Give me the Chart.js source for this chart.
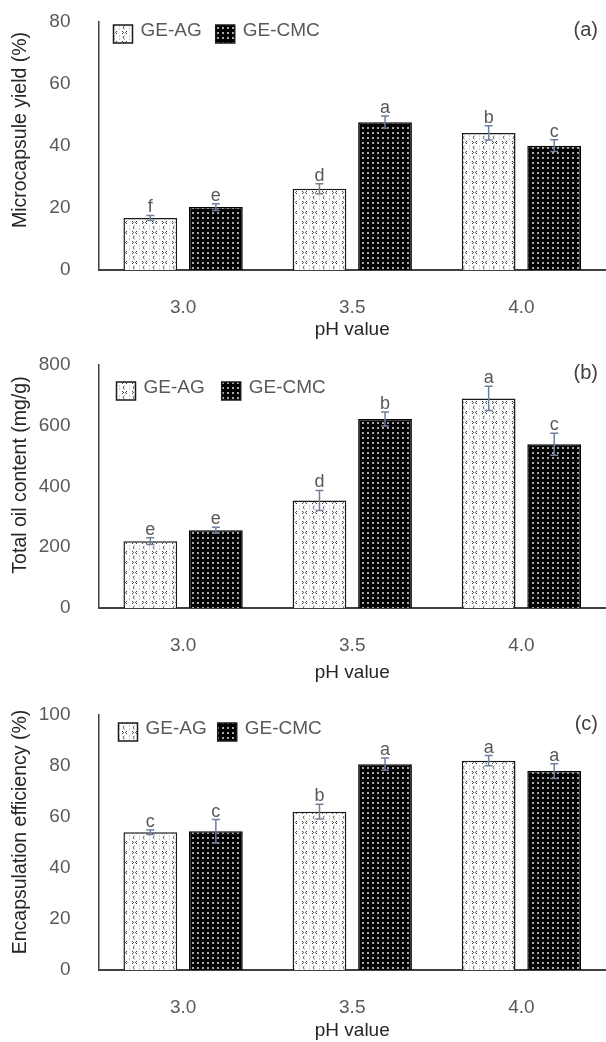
<!DOCTYPE html>
<html>
<head>
<meta charset="utf-8">
<script src="https://cdn.jsdelivr.net/npm/chart.js@4.4.0/dist/chart.umd.min.js"></script>
<style>
  html, body { margin: 0; padding: 0; background: #fff; }
  body { width: 606px; height: 1042px; position: relative; overflow: hidden; }
  .panel { position: absolute; left: 0; width: 606px; }
</style>
</head>
<body>
<div class="panel" style="top:0;height:345px"><canvas id="chartA"></canvas></div>
<div class="panel" style="top:340px;height:350px"><canvas id="chartB"></canvas></div>
<div class="panel" style="top:690px;height:352px"><canvas id="chartC"></canvas></div>
<script>
// pH categories and series names
const phLabels = ['3.0', '3.5', '4.0'];
const seriesNames = ['GE-AG', 'GE-CMC'];

// (a) Microcapsule yield (%)
const yieldAG = [16.8, 26.2, 44.2];
const yieldCMC = [20.3, 47.7, 40.1];
const yieldErrAG = [0.8, 1.6, 2.3];
const yieldErrCMC = [1.1, 2.0, 1.9];
const yieldLetAG = ['f', 'd', 'b'];
const yieldLetCMC = ['e', 'a', 'c'];
const yieldAxis = [0, 80, 20]; // min, max, step

// (b) Total oil content (mg/g)
const oilAG = [220, 354, 690];
const oilCMC = [256, 622, 539];
const oilErrAG = [11, 33, 40];
const oilErrCMC = [10, 23, 36];
const oilLetAG = ['e', 'd', 'a'];
const oilLetCMC = ['e', 'b', 'c'];
const oilAxis = [0, 800, 200];

// (c) Encapsulation efficiency (%)
const effAG = [54.0, 62.1, 82.1];
const effCMC = [54.4, 80.7, 78.0];
const effErrAG = [0.9, 2.9, 2.0];
const effErrCMC = [4.6, 2.4, 2.9];
const effLetAG = ['c', 'b', 'a'];
const effLetCMC = ['c', 'a', 'a'];
const effAxis = [0, 100, 20];

const FONT = "'Liberation Sans', Arial, sans-serif";
const GRAY = '#595959';
const DARK = '#262626';
const ERR = '#6f7f9c';

// fill patterns: white with small chevrons, black with light dots
function chevronPattern() {
    const c = document.createElement('canvas');
    c.width = 10; c.height = 10;
    const g = c.getContext('2d');
    g.fillStyle = '#fff';
    g.fillRect(0, 0, 10, 10);
    g.strokeStyle = '#3a3a3a';
    g.lineWidth = 1;
    const marks = [[2, 1, 1], [7, 1, -1], [4.5, 6, -1], [9.5, 6, 1]];
    marks.forEach(([x, y, d]) => {
        g.beginPath();
        g.moveTo(x, y);
        g.lineTo(x + d * 1.6, y + 1.5);
        g.lineTo(x, y + 3);
        g.stroke();
    });
    return g.createPattern(c, 'repeat');
}

function dotPattern() {
    const c = document.createElement('canvas');
    c.width = 5; c.height = 5;
    const g = c.getContext('2d');
    g.fillStyle = '#000';
    g.fillRect(0, 0, 5, 5);
    g.fillStyle = '#a8a8a8';
    g.fillRect(2, 2, 2, 2);
    return g.createPattern(c, 'repeat');
}

const agFill = chevronPattern();
const cmcFill = dotPattern();

// error bars, significance letters, legend, panel tag and y title
const annotations = {
    id: 'annotations',
    afterDatasetsDraw(chart, args, opts) {
        const ctx = chart.ctx;
        const y = chart.scales.y;
        const area = chart.chartArea;
        ctx.save();
        chart.data.datasets.forEach((ds, i) => {
            const meta = chart.getDatasetMeta(i);
            meta.data.forEach((bar, j) => {
                const v = ds.data[j];
                const e = ds.errors[j];
                const top = y.getPixelForValue(v + e);
                const bot = y.getPixelForValue(v - e);
                ctx.strokeStyle = ERR;
                ctx.lineWidth = 1.5;
                ctx.beginPath();
                ctx.moveTo(bar.x, top); ctx.lineTo(bar.x, bot);
                ctx.moveTo(bar.x - 4, top); ctx.lineTo(bar.x + 4, top);
                ctx.moveTo(bar.x - 4, bot); ctx.lineTo(bar.x + 4, bot);
                ctx.stroke();
                ctx.fillStyle = GRAY;
                ctx.font = '18px ' + FONT;
                ctx.textAlign = 'center';
                ctx.textBaseline = 'alphabetic';
                ctx.fillText(ds.letters[j], bar.x, top - 3);
            });
        });

        // legend inside the plot
        let lx = area.left + opts.legendX;
        const ly = area.top + opts.legendY;
        ctx.font = '19px ' + FONT;
        ctx.textAlign = 'left';
        ctx.textBaseline = 'middle';
        chart.data.datasets.forEach(ds => {
            ctx.fillStyle = ds.backgroundColor;
            ctx.fillRect(lx, ly, 19, 18);
            ctx.strokeStyle = '#1a1a1a';
            ctx.lineWidth = 1.5;
            ctx.strokeRect(lx, ly, 19, 18);
            ctx.fillStyle = GRAY;
            ctx.fillText(ds.label, lx + 27, ly + 6);
            lx += 27 + ctx.measureText(ds.label).width + opts.legendGap;
        });

        // panel tag
        ctx.fillStyle = '#404040';
        ctx.font = '20px ' + FONT;
        ctx.textAlign = 'right';
        ctx.fillText(opts.tag, 598, area.top + opts.tagY);

        // y axis title
        ctx.translate(21, opts.titleY);
        ctx.rotate(-Math.PI / 2);
        ctx.textAlign = 'center';
        ctx.fillStyle = DARK;
        ctx.font = '19.5px ' + FONT;
        ctx.fillText(opts.title, 0, 0);
        ctx.restore();
    }
};

function buildChart(id, p) {
    return new Chart(document.getElementById(id), {
        type: 'bar',
        data: {
            labels: phLabels,
            datasets: [
                {
                    label: seriesNames[0],
                    data: p.ag,
                    errors: p.errAG,
                    letters: p.letAG,
                    backgroundColor: agFill,
                    borderColor: '#1a1a1a',
                    borderWidth: 1.5,
                    categoryPercentage: 0.775,
                    barPercentage: 0.82
                },
                {
                    label: seriesNames[1],
                    data: p.cmc,
                    errors: p.errCMC,
                    letters: p.letCMC,
                    backgroundColor: cmcFill,
                    borderColor: '#000',
                    borderWidth: 1.5,
                    categoryPercentage: 0.775,
                    barPercentage: 0.82
                }
            ]
        },
        options: {
            responsive: true,
            maintainAspectRatio: false,
            animation: false,
            layout: { padding: { top: p.top, left: 0, right: 0, bottom: 0 } },
            plugins: {
                legend: { display: false },
                tooltip: { enabled: false },
                annotations: {
                    legendX: p.legendX, legendY: p.legendY, legendGap: p.legendGap,
                    tag: p.tag, tagY: p.tagY,
                    title: p.title, titleY: p.titleY
                }
            },
            scales: {
                x: {
                    grid: { display: false, drawTicks: false },
                    border: { display: true, color: '#404040', width: 2 },
                    ticks: { color: GRAY, font: { family: FONT, size: 19 }, padding: 26 },
                    title: {
                        display: true, text: 'pH value', color: DARK,
                        font: { family: FONT, size: 19 },
                        padding: { top: 0, bottom: p.titlePad }
                    },
                    afterFit: s => {
                        s.height = p.xHeight;
                        s.paddingLeft = 0; s.paddingRight = 0;
                    }
                },
                y: {
                    min: p.axis[0], max: p.axis[1],
                    grid: { display: false, drawTicks: false },
                    border: { display: true, color: '#404040', width: 1.5 },
                    ticks: { stepSize: p.axis[2], color: GRAY, font: { family: FONT, size: 19 }, padding: 28 },
                    afterFit: s => {
                        s.width = 98.5;
                        s.paddingTop = 0; s.paddingBottom = 0;
                    }
                }
            }
        },
        plugins: [annotations]
    });
}

buildChart('chartA', {
    ag: yieldAG, cmc: yieldCMC, errAG: yieldErrAG, errCMC: yieldErrCMC,
    letAG: yieldLetAG, letCMC: yieldLetCMC, axis: yieldAxis,
    top: 22, xHeight: 75, titlePad: 4,
    legendX: 15, legendY: 3, legendGap: 14,
    tag: '(a)', tagY: 8, title: 'Microcapsule yield (%)', titleY: 130
});

buildChart('chartB', {
    ag: oilAG, cmc: oilCMC, errAG: oilErrAG, errCMC: oilErrCMC,
    letAG: oilLetAG, letCMC: oilLetCMC, axis: oilAxis,
    top: 25, xHeight: 82, titlePad: 6,
    legendX: 18, legendY: 17, legendGap: 17,
    tag: '(b)', tagY: 8, title: 'Total oil content (mg/g)', titleY: 135
});

buildChart('chartC', {
    ag: effAG, cmc: effCMC, errAG: effErrAG, errCMC: effErrCMC,
    letAG: effLetAG, letCMC: effLetCMC, axis: effAxis,
    top: 25, xHeight: 72, titlePad: 0,
    legendX: 20, legendY: 8, legendGap: 11,
    tag: '(c)', tagY: 9, title: 'Encapsulation efficiency (%)', titleY: 142
});
</script>
</body>
</html>
